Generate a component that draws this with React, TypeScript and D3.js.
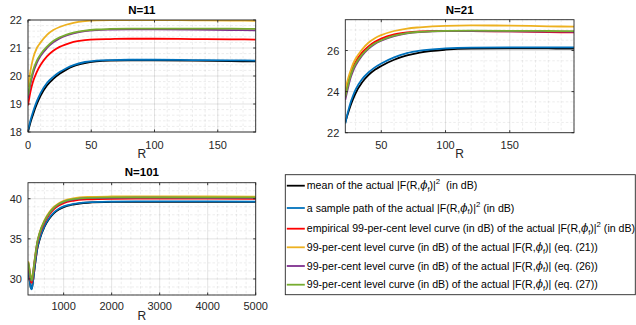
import React from "react";
import * as d3 from "d3";

// ---- N = 11 ----
const r11 = [0, 2, 4, 7, 10, 15, 20, 25, 30, 36, 45, 54, 65, 80, 100, 130, 160, 180];
const mean11 = [18.0, 18.35, 18.63, 19.0, 19.3, 19.66, 19.9, 20.08, 20.22, 20.35, 20.46, 20.52, 20.55, 20.56, 20.56, 20.55, 20.53, 20.52];
const sample11 = [18.05, 18.42, 18.72, 19.1, 19.4, 19.75, 19.97, 20.14, 20.27, 20.39, 20.5, 20.55, 20.57, 20.58, 20.58, 20.57, 20.56, 20.55];
const emp11 = [18.95, 19.45, 19.8, 20.15, 20.4, 20.7, 20.9, 21.04, 21.13, 21.22, 21.28, 21.31, 21.32, 21.33, 21.33, 21.32, 21.31, 21.3];
const eq21_11 = [19.6, 20.2, 20.63, 21.0, 21.2, 21.47, 21.64, 21.75, 21.83, 21.9, 21.96, 21.99, 22.0, 22.0, 22.0, 21.99, 21.98, 21.97];
const eq26_11 = [19.2, 19.72, 20.1, 20.47, 20.72, 21.0, 21.2, 21.34, 21.44, 21.52, 21.6, 21.64, 21.66, 21.67, 21.67, 21.66, 21.64, 21.63];
const eq27_11 = [19.3, 19.82, 20.2, 20.55, 20.78, 21.05, 21.25, 21.38, 21.47, 21.55, 21.62, 21.66, 21.68, 21.69, 21.69, 21.69, 21.69, 21.68];

// ---- N = 21 ----
const r21 = [22, 24, 26, 28, 30, 35, 40, 45, 50, 60, 70, 80, 100, 120, 150, 180, 200];
const mean21 = [22.5, 22.92, 23.3, 23.63, 23.92, 24.44, 24.8, 25.06, 25.25, 25.55, 25.76, 25.9, 26.04, 26.09, 26.1, 26.1, 26.09];
const sample21 = [22.45, 23.0, 23.45, 23.8, 24.1, 24.6, 24.93, 25.18, 25.37, 25.67, 25.87, 25.99, 26.1, 26.14, 26.15, 26.15, 26.15];
const emp21 = [23.85, 24.4, 24.85, 25.2, 25.45, 25.9, 26.2, 26.42, 26.58, 26.78, 26.88, 26.93, 26.96, 26.95, 26.93, 26.9, 26.88];
const eq21_21 = [24.1, 24.6, 25.0, 25.35, 25.6, 26.05, 26.38, 26.6, 26.75, 26.95, 27.07, 27.13, 27.2, 27.22, 27.21, 27.18, 27.16];
const eq26_21 = [23.6, 24.15, 24.65, 25.0, 25.27, 25.75, 26.08, 26.32, 26.48, 26.7, 26.84, 26.9, 26.94, 26.94, 26.93, 26.92, 26.91];
const eq27_21 = [23.75, 24.3, 24.75, 25.1, 25.35, 25.8, 26.12, 26.35, 26.5, 26.72, 26.85, 26.91, 26.96, 26.97, 26.96, 26.95, 26.94];

// ---- N = 101 ----
const r101 = [263, 290, 315, 335, 360, 400, 450, 500, 600, 700, 800, 900, 1000, 1200, 1500, 2000, 2500, 3000, 4000, 5000];
const mean101 = [31.0, 29.9, 28.95, 28.8, 29.6, 31.5, 33.7, 34.9, 36.5, 37.5, 38.2, 38.65, 38.95, 39.28, 39.5, 39.6, 39.62, 39.62, 39.61, 39.6];
const sample101 = [31.2, 30.0, 28.9, 28.7, 29.6, 31.6, 33.8, 35.0, 36.6, 37.6, 38.3, 38.75, 39.05, 39.35, 39.55, 39.65, 39.68, 39.68, 39.66, 39.65];
const emp101 = [31.8, 30.7, 29.7, 29.5, 30.3, 32.2, 34.3, 35.5, 37.0, 38.0, 38.7, 39.15, 39.45, 39.75, 39.92, 40.0, 40.02, 40.02, 40.01, 40.0];
const eq21_101 = [32.2, 31.3, 30.3, 30.0, 30.8, 32.6, 34.6, 35.8, 37.3, 38.3, 39.0, 39.45, 39.75, 40.05, 40.22, 40.28, 40.3, 40.3, 40.28, 40.27];
const eq26_101 = [32.0, 31.0, 30.0, 29.75, 30.55, 32.4, 34.45, 35.65, 37.15, 38.15, 38.85, 39.3, 39.6, 39.9, 40.07, 40.12, 40.13, 40.13, 40.12, 40.11];
const eq27_101 = [32.05, 31.1, 30.1, 29.8, 30.6, 32.45, 34.5, 35.7, 37.2, 38.2, 38.9, 39.35, 39.65, 39.95, 40.12, 40.17, 40.18, 40.18, 40.17, 40.16];

// series colours, in drawing / legend order
const seriesColors = ["#000000", "#0072BD", "#FF0000", "#EDB120", "#7E2F8E", "#77AC30"];

type Label = { pre: string; sup: boolean; post: string };
const legendLabels: Label[] = [
  { pre: "mean of the actual ", sup: true, post: "\u00a0\u00a0(in dB)" },
  { pre: "a sample path of the actual ", sup: true, post: " (in dB)" },
  { pre: "empirical 99-per-cent level curve (in dB) of the actual ", sup: true, post: " (in dB)" },
  { pre: "99-per-cent level curve (in dB) of the actual ", sup: false, post: " (eq. (21))" },
  { pre: "99-per-cent level curve (in dB) of the actual ", sup: false, post: " (eq. (26))" },
  { pre: "99-per-cent level curve (in dB) of the actual ", sup: false, post: " (eq. (27))" },
];

const FONT = "'Liberation Sans', Arial, Helvetica, sans-serif";
const AX = "#262626";

type Panel = {
  id: string;
  title: string;
  box: { x0: number; x1: number; y0: number; y1: number };
  xDomain: [number, number];
  yDomain: [number, number];
  xTicks: number[];
  yTicks: number[];
  xMinor: number;
  yMinor: number;
  r: number[];
  ys: number[][];
  tickBase: number;
  labelBase: number;
  titleBase: number;
};

const panels: Panel[] = [
  {
    id: "p11",
    title: "N=11",
    box: { x0: 28, x1: 255.7, y0: 20, y1: 132 },
    xDomain: [0, 180],
    yDomain: [18, 22],
    xTicks: [0, 50, 100, 150],
    yTicks: [18, 19, 20, 21, 22],
    xMinor: 10,
    yMinor: 0.2,
    r: r11,
    ys: [mean11, sample11, emp11, eq21_11, eq26_11, eq27_11],
    tickBase: 149,
    labelBase: 158,
    titleBase: 13.5,
  },
  {
    id: "p21",
    title: "N=21",
    box: { x0: 345.3, x1: 574, y0: 19.7, y1: 132.7 },
    xDomain: [22, 200],
    yDomain: [22, 27.5],
    xTicks: [50, 100, 150],
    yTicks: [22, 24, 26],
    xMinor: 10,
    yMinor: 0.5,
    r: r21,
    ys: [mean21, sample21, emp21, eq21_21, eq26_21, eq27_21],
    tickBase: 149,
    labelBase: 158,
    titleBase: 13.5,
  },
  {
    id: "p101",
    title: "N=101",
    box: { x0: 28, x1: 255.7, y0: 182.7, y1: 295 },
    xDomain: [258, 5000],
    yDomain: [28, 42],
    xTicks: [1000, 2000, 3000, 4000, 5000],
    yTicks: [30, 35, 40],
    xMinor: 200,
    yMinor: 1,
    r: r101,
    ys: [mean101, sample101, emp101, eq21_101, eq26_101, eq27_101],
    tickBase: 310,
    labelBase: 320,
    titleBase: 176,
  },
];

function minorValues(domain: [number, number], step: number, majors: number[]): number[] {
  const out: number[] = [];
  const start = Math.ceil(domain[0] / step - 1e-9);
  const end = Math.floor(domain[1] / step + 1e-9);
  for (let i = start; i <= end; i++) {
    const v = +(i * step).toFixed(6);
    if (!majors.some((m) => Math.abs(m - v) < 1e-6)) out.push(v);
  }
  return out;
}

function PanelView({ p }: { p: Panel }) {
  const { x0, x1, y0, y1 } = p.box;
  const x = d3.scaleLinear().domain(p.xDomain).range([x0, x1]);
  const y = d3.scaleLinear().domain(p.yDomain).range([y1, y0]);
  const line = d3
    .line<[number, number]>()
    .x((d) => x(d[0]))
    .y((d) => y(d[1]))
    .curve(d3.curveMonotoneX);
  const xMin = minorValues(p.xDomain, p.xMinor, p.xTicks);
  const yMin = minorValues(p.yDomain, p.yMinor, p.yTicks);
  const tl = 2.5;
  return (
    <g>
      <defs>
        <clipPath id={`clip-${p.id}`}>
          <rect x={x0} y={y0} width={x1 - x0} height={y1 - y0} />
        </clipPath>
      </defs>
      <rect x={x0} y={y0} width={x1 - x0} height={y1 - y0} fill="#fff" />
      {/* minor grid */}
      <g stroke={AX} strokeOpacity={0.14} strokeWidth={0.6} strokeDasharray="2.5,2">
        {xMin.map((v) => (
          <line key={`xm${v}`} x1={x(v)} x2={x(v)} y1={y0} y2={y1} />
        ))}
        {yMin.map((v) => (
          <line key={`ym${v}`} x1={x0} x2={x1} y1={y(v)} y2={y(v)} />
        ))}
      </g>
      {/* major grid */}
      <g stroke={AX} strokeOpacity={0.16} strokeWidth={0.8}>
        {p.xTicks.map((v) => (
          <line key={`xg${v}`} x1={x(v)} x2={x(v)} y1={y0} y2={y1} />
        ))}
        {p.yTicks.map((v) => (
          <line key={`yg${v}`} x1={x0} x2={x1} y1={y(v)} y2={y(v)} />
        ))}
      </g>
      {/* curves */}
      <g clipPath={`url(#clip-${p.id})`} fill="none" strokeWidth={1.8} strokeLinejoin="round">
        {p.ys.map((vals, i) => (
          <path
            key={i}
            d={line(p.r.map((rv, k) => [rv, vals[k]] as [number, number])) || ""}
            stroke={seriesColors[i]}
          />
        ))}
      </g>
      {/* box and ticks */}
      <rect x={x0} y={y0} width={x1 - x0} height={y1 - y0} fill="none" stroke={AX} strokeWidth={0.9} />
      <g stroke={AX} strokeWidth={0.9}>
        {p.xTicks.map((v) => (
          <g key={`xt${v}`}>
            <line x1={x(v)} x2={x(v)} y1={y1} y2={y1 - tl} />
            <line x1={x(v)} x2={x(v)} y1={y0} y2={y0 + tl} />
          </g>
        ))}
        {p.yTicks.map((v) => (
          <g key={`yt${v}`}>
            <line x1={x0} x2={x0 + tl} y1={y(v)} y2={y(v)} />
            <line x1={x1} x2={x1 - tl} y1={y(v)} y2={y(v)} />
          </g>
        ))}
      </g>
      <g fontFamily={FONT} fontSize={11} fill={AX}>
        {p.xTicks.map((v) => (
          <text key={`xl${v}`} x={x(v)} y={p.tickBase} textAnchor="middle">
            {v}
          </text>
        ))}
        {p.yTicks.map((v) => (
          <text key={`yl${v}`} x={x0 - 6} y={y(v) + 4} textAnchor="end">
            {v}
          </text>
        ))}
        <text x={(x0 + x1) / 2} y={p.labelBase} textAnchor="middle" fontSize={12}>
          R
        </text>
        <text
          x={(x0 + x1) / 2}
          y={p.titleBase}
          textAnchor="middle"
          fontWeight="bold"
          fontSize={11.5}
          fill="#000"
        >
          {p.title}
        </text>
      </g>
    </g>
  );
}

function Legend() {
  const bx0 = 285.3;
  const bx1 = 635.3;
  const by0 = 174.7;
  const by1 = 294.7;
  // row pitch: rows carrying a superscript are a little taller
  const pitch = [22.3, 20.7, 18.6, 18.7, 18.7];
  const ys: number[] = [];
  let acc = by0 + 11;
  legendLabels.forEach((_, i) => {
    ys.push(acc);
    acc += pitch[i] ?? 0;
  });
  return (
    <g>
      <rect x={bx0} y={by0} width={bx1 - bx0} height={by1 - by0} fill="#fff" stroke={AX} strokeWidth={0.9} />
      {legendLabels.map((l, i) => (
        <g key={i}>
          <line x1={bx0 + 1.5} x2={bx0 + 19.5} y1={ys[i]} y2={ys[i]} stroke={seriesColors[i]} strokeWidth={1.8} />
          <text x={bx0 + 21.5} y={ys[i] + 3.6} fontFamily={FONT} fontSize={10.6} fill="#000">
            <tspan>{l.pre}|F(R,</tspan>
            <tspan fontStyle="italic" fontFamily="'DejaVu Serif', serif">
              {"\u03d5"}
            </tspan>
            <tspan fontSize={7.4} dy={2.6}>
              f
            </tspan>
            <tspan dy={-2.6}>)|</tspan>
            {l.sup ? (
              <>
                <tspan fontSize={7.8} dy={-5}>
                  2
                </tspan>
                <tspan dy={5}>{l.post}</tspan>
              </>
            ) : (
              <tspan>{l.post}</tspan>
            )}
          </text>
        </g>
      ))}
    </g>
  );
}

export default function App() {
  return (
    <svg
      width={636}
      height={325}
      viewBox="0 0 636 325"
      style={{ position: "absolute", left: 0, top: 0, background: "#fff" }}
    >
      <rect width={636} height={325} fill="#fff" />
      {panels.map((p) => (
        <PanelView key={p.id} p={p} />
      ))}
      <Legend />
    </svg>
  );
}
